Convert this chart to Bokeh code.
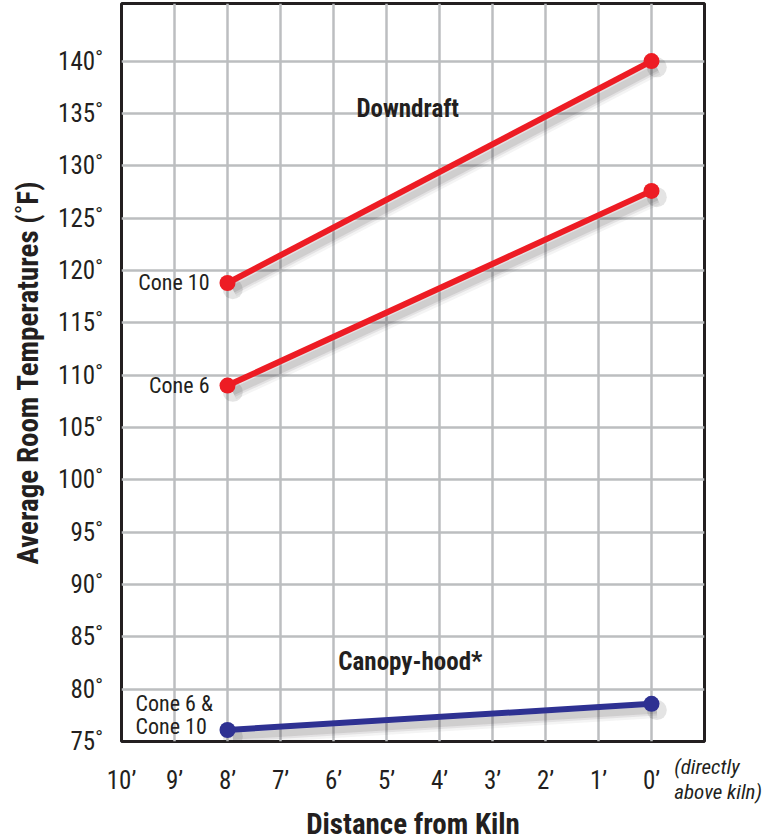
from bokeh.plotting import figure
from bokeh.models import FixedTicker, Range1d, Label
from bokeh.embed import file_html
from bokeh.resources import INLINE

# ---- data ----
distance = [8, 0]                      # feet from kiln
downdraft_cone10 = [118.8, 140.0]
downdraft_cone6 = [109.0, 127.6]
canopy_hood = [76.1, 78.6]

x_ticks = [10, 9, 8, 7, 6, 5, 4, 3, 2, 1, 0]
x_tick_labels = [f"{t}\u2019" for t in x_ticks]
y_ticks = list(range(75, 145, 5))
y_tick_labels = [f"{t}\u02da" for t in y_ticks]

RED = "#ed1c24"
BLUE = "#2e3192"
INK = "#231f20"
COND = "'Liberation Sans Narrow', 'Roboto Condensed', 'DejaVu Sans Condensed', sans-serif"

p = figure(frame_width=583, frame_height=738, output_backend="svg", toolbar_location=None,
           x_range=Range1d(10, -1), y_range=Range1d(75, 145.5),
           min_border_left=121, min_border_right=68, min_border_top=3,
           min_border_bottom=60)

p.background_fill_color = "white"
p.border_fill_color = "white"
p.outline_line_color = INK
p.outline_line_width = 3

# axes
p.xaxis.ticker = FixedTicker(ticks=x_ticks)
p.yaxis.ticker = FixedTicker(ticks=y_ticks)
p.xaxis.major_label_overrides = dict(zip(x_ticks, x_tick_labels))
p.yaxis.major_label_overrides = dict(zip(y_ticks, y_tick_labels))
for ax in (p.xaxis, p.yaxis):
    ax.axis_line_color = None
    ax.major_tick_line_color = None
    ax.minor_tick_line_color = None
    ax.major_label_text_font = COND
    ax.major_label_text_font_size = "25px"
    ax.major_label_text_color = INK
    ax.axis_label_text_font = COND
    ax.axis_label_text_font_style = "bold"
    ax.axis_label_text_font_size = "29px"
    ax.axis_label_text_color = INK
p.xaxis.major_label_standoff = 18
p.yaxis.major_label_standoff = 12
p.xaxis.axis_label = "Distance from Kiln"
p.yaxis.axis_label = "Average Room Temperatures (\u02daF)"
p.xaxis.axis_label_standoff = 9
p.yaxis.axis_label_standoff = 10

p.grid.grid_line_color = "#bcbec0"
p.grid.grid_line_width = 2.5
p.grid.grid_line_alpha = 1.0

# soft shadows (derived from data, small offset down-right)
for ys in (downdraft_cone10, downdraft_cone6, canopy_hood):
    sx = [d - 0.1 for d in distance]
    sy = [v - 0.6 for v in ys]
    for w, a in ((16, 0.05), (11, 0.08), (7, 0.10)):
        p.line(sx, sy, line_color=INK, line_width=w, line_alpha=a)
    p.scatter(sx, sy, size=20, fill_color=INK, fill_alpha=0.12, line_color=None)

# series
for ys, c in ((downdraft_cone10, RED), (downdraft_cone6, RED), (canopy_hood, BLUE)):
    p.line(distance, ys, line_color=c, line_width=6)
    p.scatter(distance, ys, size=16, fill_color=c, line_color=None)

# annotations
def lab(x, y, text, xo=0, yo=0, align="left", base="middle", size="22px", style="normal", place="center"):
    p.add_layout(Label(x=x, y=y, text=text, x_offset=xo, y_offset=yo,
                       text_align=align, text_baseline=base,
                       text_font=COND, text_font_size=size, text_font_style=style,
                       text_color=INK), place)

lab(distance[0], downdraft_cone10[0], "Cone 10", xo=-18, align="right")
lab(distance[0], downdraft_cone6[0], "Cone 6", xo=-18, align="right")
lab(distance[0], canopy_hood[0], "Cone 6 &", xo=-92, yo=26, align="left")
lab(distance[0], canopy_hood[0], "Cone 10", xo=-92, yo=3, align="left")
lab(4.6, 135.5, "Downdraft", align="center", size="25px", style="bold")
lab(4.55, 82.6, "Canopy-hood*", align="center", size="25px", style="bold")
lab(-0.43, y_ticks[0], "(directly", yo=-25, align="left", size="21px", style="italic", place="below")
lab(-0.43, y_ticks[0], "above kiln)", yo=-50, align="left", size="21px", style="italic", place="below")

open("out.html", "w").write(file_html(p, INLINE))
